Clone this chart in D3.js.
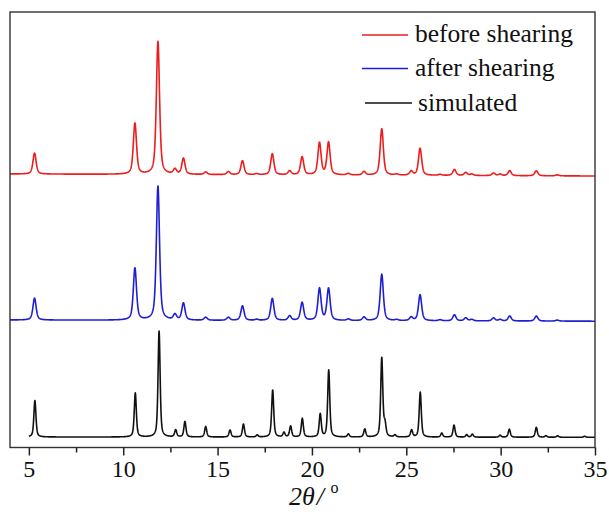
<!DOCTYPE html>
<html>
<head>
<meta charset="utf-8">
<script src="https://cdn.jsdelivr.net/npm/d3@7"></script>
<style>
  body { margin: 0; background: #fff; }
  svg text { font-family: "Liberation Serif", "Times New Roman", serif; }
</style>
</head>
<body>
<div id="chart"></div>
<script>
// peak positions (2θ, degrees) and heights (a.u.)
const expPos = [5.3, 10.62, 11.84, 12.74, 13.19, 14.37, 15.57, 16.32, 17.07, 17.9, 18.82, 19.48, 20.4, 20.88, 21.93, 22.76, 23.7, 24.49, 25.26, 25.73, 26.79, 27.55, 28.15, 28.47, 29.62, 29.97, 30.48, 31.89, 33.0];
const beforeInt = [21, 51, 133, 5, 16, 2.5, 3, 14, 1, 21, 4, 18, 32, 32.5, 1.5, 3.5, 46.5, 1, 4, 27, 1, 6, 3, 1.5, 2.5, 1.5, 5, 5, 1];
const afterInt  = [22, 52, 134, 5.5, 17, 3, 3, 14.5, 1, 22, 4.5, 18, 32, 32, 1.5, 3.5, 46.5, 1, 3.5, 26, 1, 6, 3, 1.5, 3, 1.5, 5, 5, 1];

const simPos = [5.32, 10.64, 11.9, 12.78, 13.27, 14.37, 15.66, 16.37, 17.1, 17.92, 18.52, 18.87, 19.49, 20.44, 20.89, 21.93, 22.8, 23.7, 23.87, 24.4, 25.28, 25.74, 26.88, 27.53, 28.2, 28.5, 29.97, 30.46, 31.89, 32.4, 33.02, 34.45];
const simInt = [36.5, 44, 106, 7, 15.5, 10.5, 7, 13, 2, 47, 4.5, 11, 18.7, 23, 67, 3, 8, 79, 12, 2, 7, 45, 4, 12, 2.5, 3, 2, 8, 10, 1.5, 1.5, 1];

const seriesNames = ["before shearing", "after shearing", "simulated"];
const xTicks = [5, 10, 15, 20, 25, 30, 35];

const width = 609, height = 515;
const margin = {top: 12, right: 14, bottom: 67.5, left: 10};

const svg = d3.select("#chart").append("svg")
    .attr("width", width)
    .attr("height", height);

const x = d3.scaleLinear().domain([4, 35]).range([margin.left, width - margin.right]);
const y = d3.scaleLinear().domain([0, 435.5]).range([height - margin.bottom, margin.top]);

// pseudo-Voigt profile summed over the peak list
function pattern(pos, ints, fwhm, from, to, base0, base1) {
    const pts = [];
    const eta = 0.55;
    const sig = fwhm / 2.3548, gam = fwhm / 2;
    for (let t = from; t <= to + 1e-9; t += 0.01) {
        let v = base0 + (base1 - base0) * (t - from) / (to - from);
        pos.forEach((p, i) => {
            const d = t - p;
            const g = Math.exp(-d * d / (2 * sig * sig));
            const l = 1 / (1 + (d / gam) * (d / gam));
            v += ints[i] * (eta * l + (1 - eta) * g);
        });
        pts.push([t, v]);
    }
    return pts;
}

const line = d3.line().x(d => x(d[0])).y(d => y(d[1]));

const traces = [
    {data: pattern(expPos, beforeInt, 0.2, 4, 35, 273.5, 271.5), color: "#ee1c1c"},
    {data: pattern(expPos, afterInt, 0.2, 4, 35, 127.5, 126.3), color: "#1f1fd2"},
    {data: pattern(simPos, simInt, 0.13, 5, 35, 10.5, 10.2), color: "#111111"}
];

svg.selectAll(".trace")
    .data(traces)
    .enter()
    .append("path")
    .attr("class", "trace")
    .attr("fill", "none")
    .attr("stroke", d => d.color)
    .attr("stroke-width", 1.6)
    .attr("stroke-linejoin", "round")
    .attr("d", d => line(d.data));

// frame
svg.append("rect")
    .attr("x", x(4)).attr("y", y(435.5))
    .attr("width", x(35) - x(4)).attr("height", y(0) - y(435.5))
    .attr("fill", "none").attr("stroke", "#333").attr("stroke-width", 1.4);

// bottom axis
const xAxis = svg.append("g")
    .attr("transform", "translate(0," + y(0) + ")")
    .call(d3.axisBottom(x).tickValues(xTicks).tickSize(8).tickPadding(4).tickFormat(d3.format("d")));
xAxis.select(".domain").remove();
xAxis.selectAll(".tick line").attr("stroke", "#222").attr("stroke-width", 1.5);
xAxis.selectAll(".tick text")
    .style("font-size", "24px").style("font-family", "'Liberation Serif', serif")
    .attr("fill", "#111");

svg.append("g")
    .attr("transform", "translate(0," + y(0) + ")")
    .call(d3.axisBottom(x).tickValues(d3.range(7.5, 35, 5)).tickSize(5).tickFormat(""))
    .call(g => g.select(".domain").remove())
    .selectAll(".tick line").attr("stroke", "#222").attr("stroke-width", 1.5);

// axis title
const title = svg.append("text")
    .attr("x", 289).attr("y", 505)
    .style("font-size", "26px").attr("fill", "#111");
title.append("tspan").attr("font-style", "italic").text("2θ");
title.append("tspan").attr("font-style", "italic").attr("dx", 2).text("/ ");
title.append("tspan").style("font-size", "16px").attr("dy", -12).text("o");

// legend
const legendY = [42, 75.5, 111];
const legend = svg.selectAll(".legend")
    .data(seriesNames)
    .enter()
    .append("g")
    .attr("class", "legend")
    .attr("transform", (d, i) => "translate(0," + legendY[i] + ")");

legend.append("line")
    .attr("x1", (d, i) => i === 2 ? 365 : 362)
    .attr("x2", (d, i) => i === 2 ? 412 : 408)
    .attr("y1", (d, i) => i === 2 ? -8 : -7).attr("y2", (d, i) => i === 2 ? -8 : -7)
    .attr("stroke", (d, i) => traces[i].color)
    .attr("stroke-width", 1.4);

legend.append("text")
    .attr("x", (d, i) => i === 2 ? 418 : 415)
    .attr("y", 0)
    .style("font-size", "25.5px").attr("fill", "#111")
    .text(d => d);
</script>
</body>
</html>
